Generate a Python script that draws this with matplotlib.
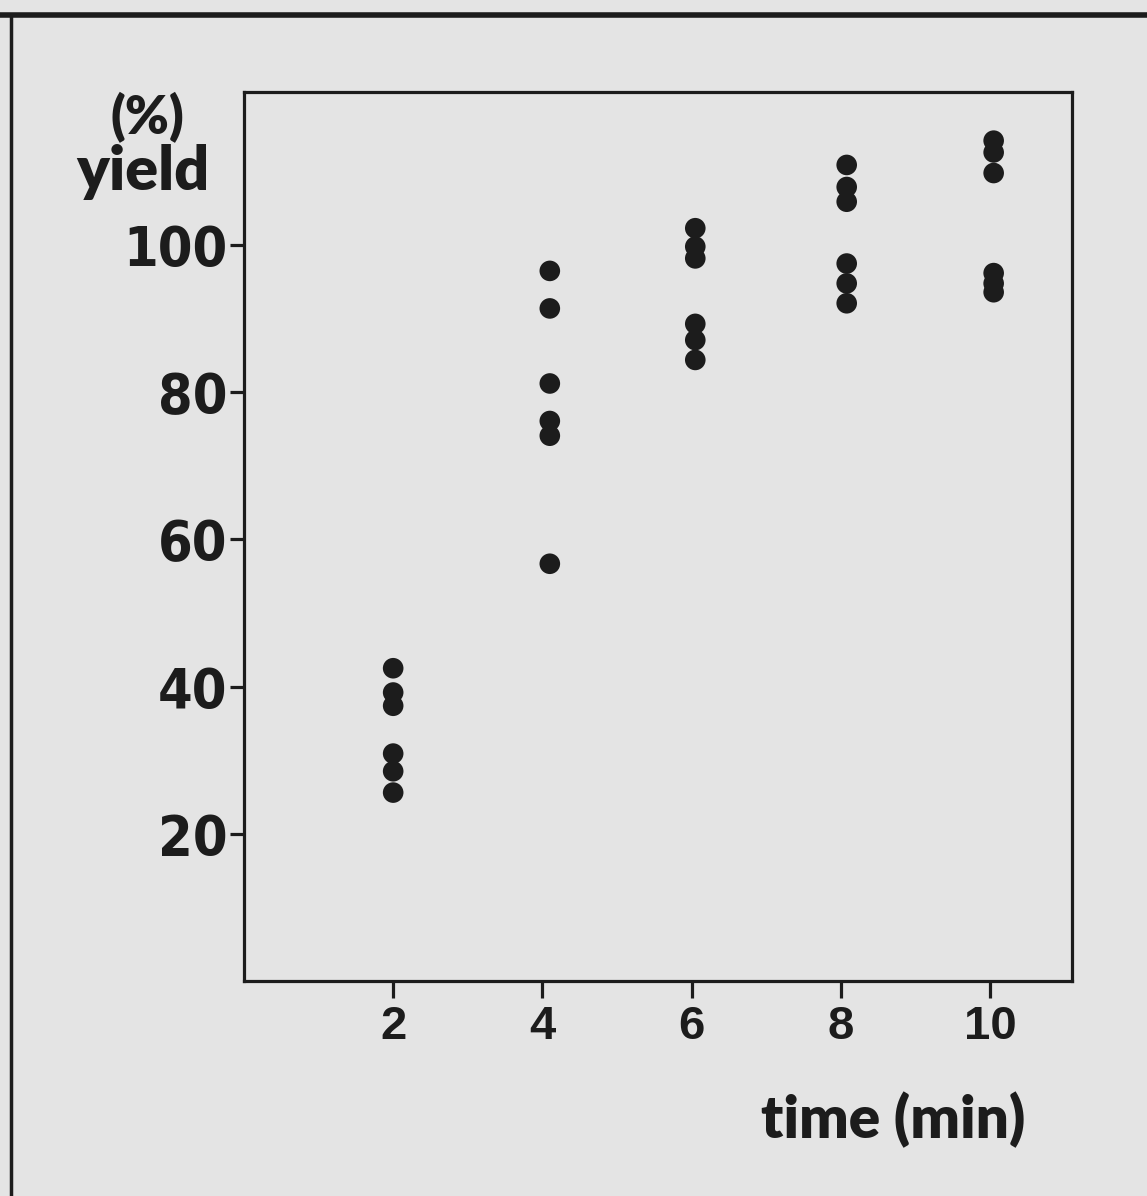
import matplotlib
matplotlib.use("Agg")
import matplotlib.pyplot as plt
from matplotlib import font_manager
from matplotlib.lines import Line2D

# data
times = [2.0, 4.1, 6.05, 8.08, 10.05]
yield_2 = [42.5, 39.2, 37.4, 30.9, 28.5, 25.6]
yield_4 = [96.5, 91.4, 81.2, 76.1, 74.1, 56.7]
yield_6 = [102.3, 99.8, 98.2, 89.3, 87.1, 84.4]
yield_8 = [110.9, 107.9, 105.9, 97.5, 94.8, 92.1]
yield_10 = [114.2, 112.6, 109.8, 96.2, 94.8, 93.6]
x_ticks = [2, 4, 6, 8, 10]
y_ticks = [20, 40, 60, 80, 100]

bg = "#e4e4e4"
ink = "#1c1c1c"

# look for a narrow bold face for the y tick numbers
narrow = None
for f in font_manager.fontManager.ttflist:
    n = f.fname.lower()
    if ("narrow" in n or "condensed" in n) and "bold" in n and "oblique" not in n and "italic" not in n:
        narrow = font_manager.FontProperties(fname=f.fname, size=40)
        break
if narrow is None:
    narrow = font_manager.FontProperties(family="Liberation Sans", weight="bold", size=36)

fig = plt.figure(figsize=(11.47, 11.96), dpi=100, facecolor=bg)
ax = fig.add_axes([0.2127, 0.1798, 0.7219, 0.7432], facecolor=bg)

groups = [yield_2, yield_4, yield_6, yield_8, yield_10]
for t, ys in zip(times, groups):
    ax.scatter([t] * len(ys), ys, s=220, color=ink, edgecolors="none", zorder=3)

ax.set_xlim(0, 11.1)
ax.set_ylim(0, 120.8)

for sp in ax.spines.values():
    sp.set_linewidth(2.3)
    sp.set_color(ink)

ax.set_xticks(x_ticks)
ax.set_yticks(y_ticks)
ax.set_xticklabels([str(v) for v in x_ticks], fontsize=34, fontweight="bold",
                   family="Liberation Sans")
ax.set_yticklabels([str(v) for v in y_ticks], fontproperties=narrow)
ax.tick_params(axis="x", direction="out", length=12, width=2.3, color=ink, pad=5, labelcolor=ink)
ax.tick_params(axis="y", direction="out", length=10, width=2.3, color=ink, pad=2, labelcolor=ink)

# axis titles placed like in the original figure
fig.text(147 / 1147, 1 - 118 / 1196, "(%)", fontsize=38, fontweight="heavy",
         family="Lato", ha="center", va="center", color=ink)
fig.text(143 / 1147, 1 - 172 / 1196, "yield", fontsize=44, fontweight="heavy",
         family="Lato", ha="center", va="center", color=ink)
fig.text(1025 / 1147, 1 - 1120 / 1196, "time (min)", fontsize=42, fontweight="heavy",
         family="Lato", ha="right", va="center", color=ink)

# frame lines of the scanned page
fig.add_artist(Line2D([0, 1], [1 - 15 / 1196, 1 - 15 / 1196], transform=fig.transFigure,
                      color=ink, linewidth=4))
fig.add_artist(Line2D([11 / 1147, 11 / 1147], [0, 1 - 15 / 1196], transform=fig.transFigure,
                      color=ink, linewidth=2.5))

fig.savefig("out.png", dpi=100, facecolor=bg)
